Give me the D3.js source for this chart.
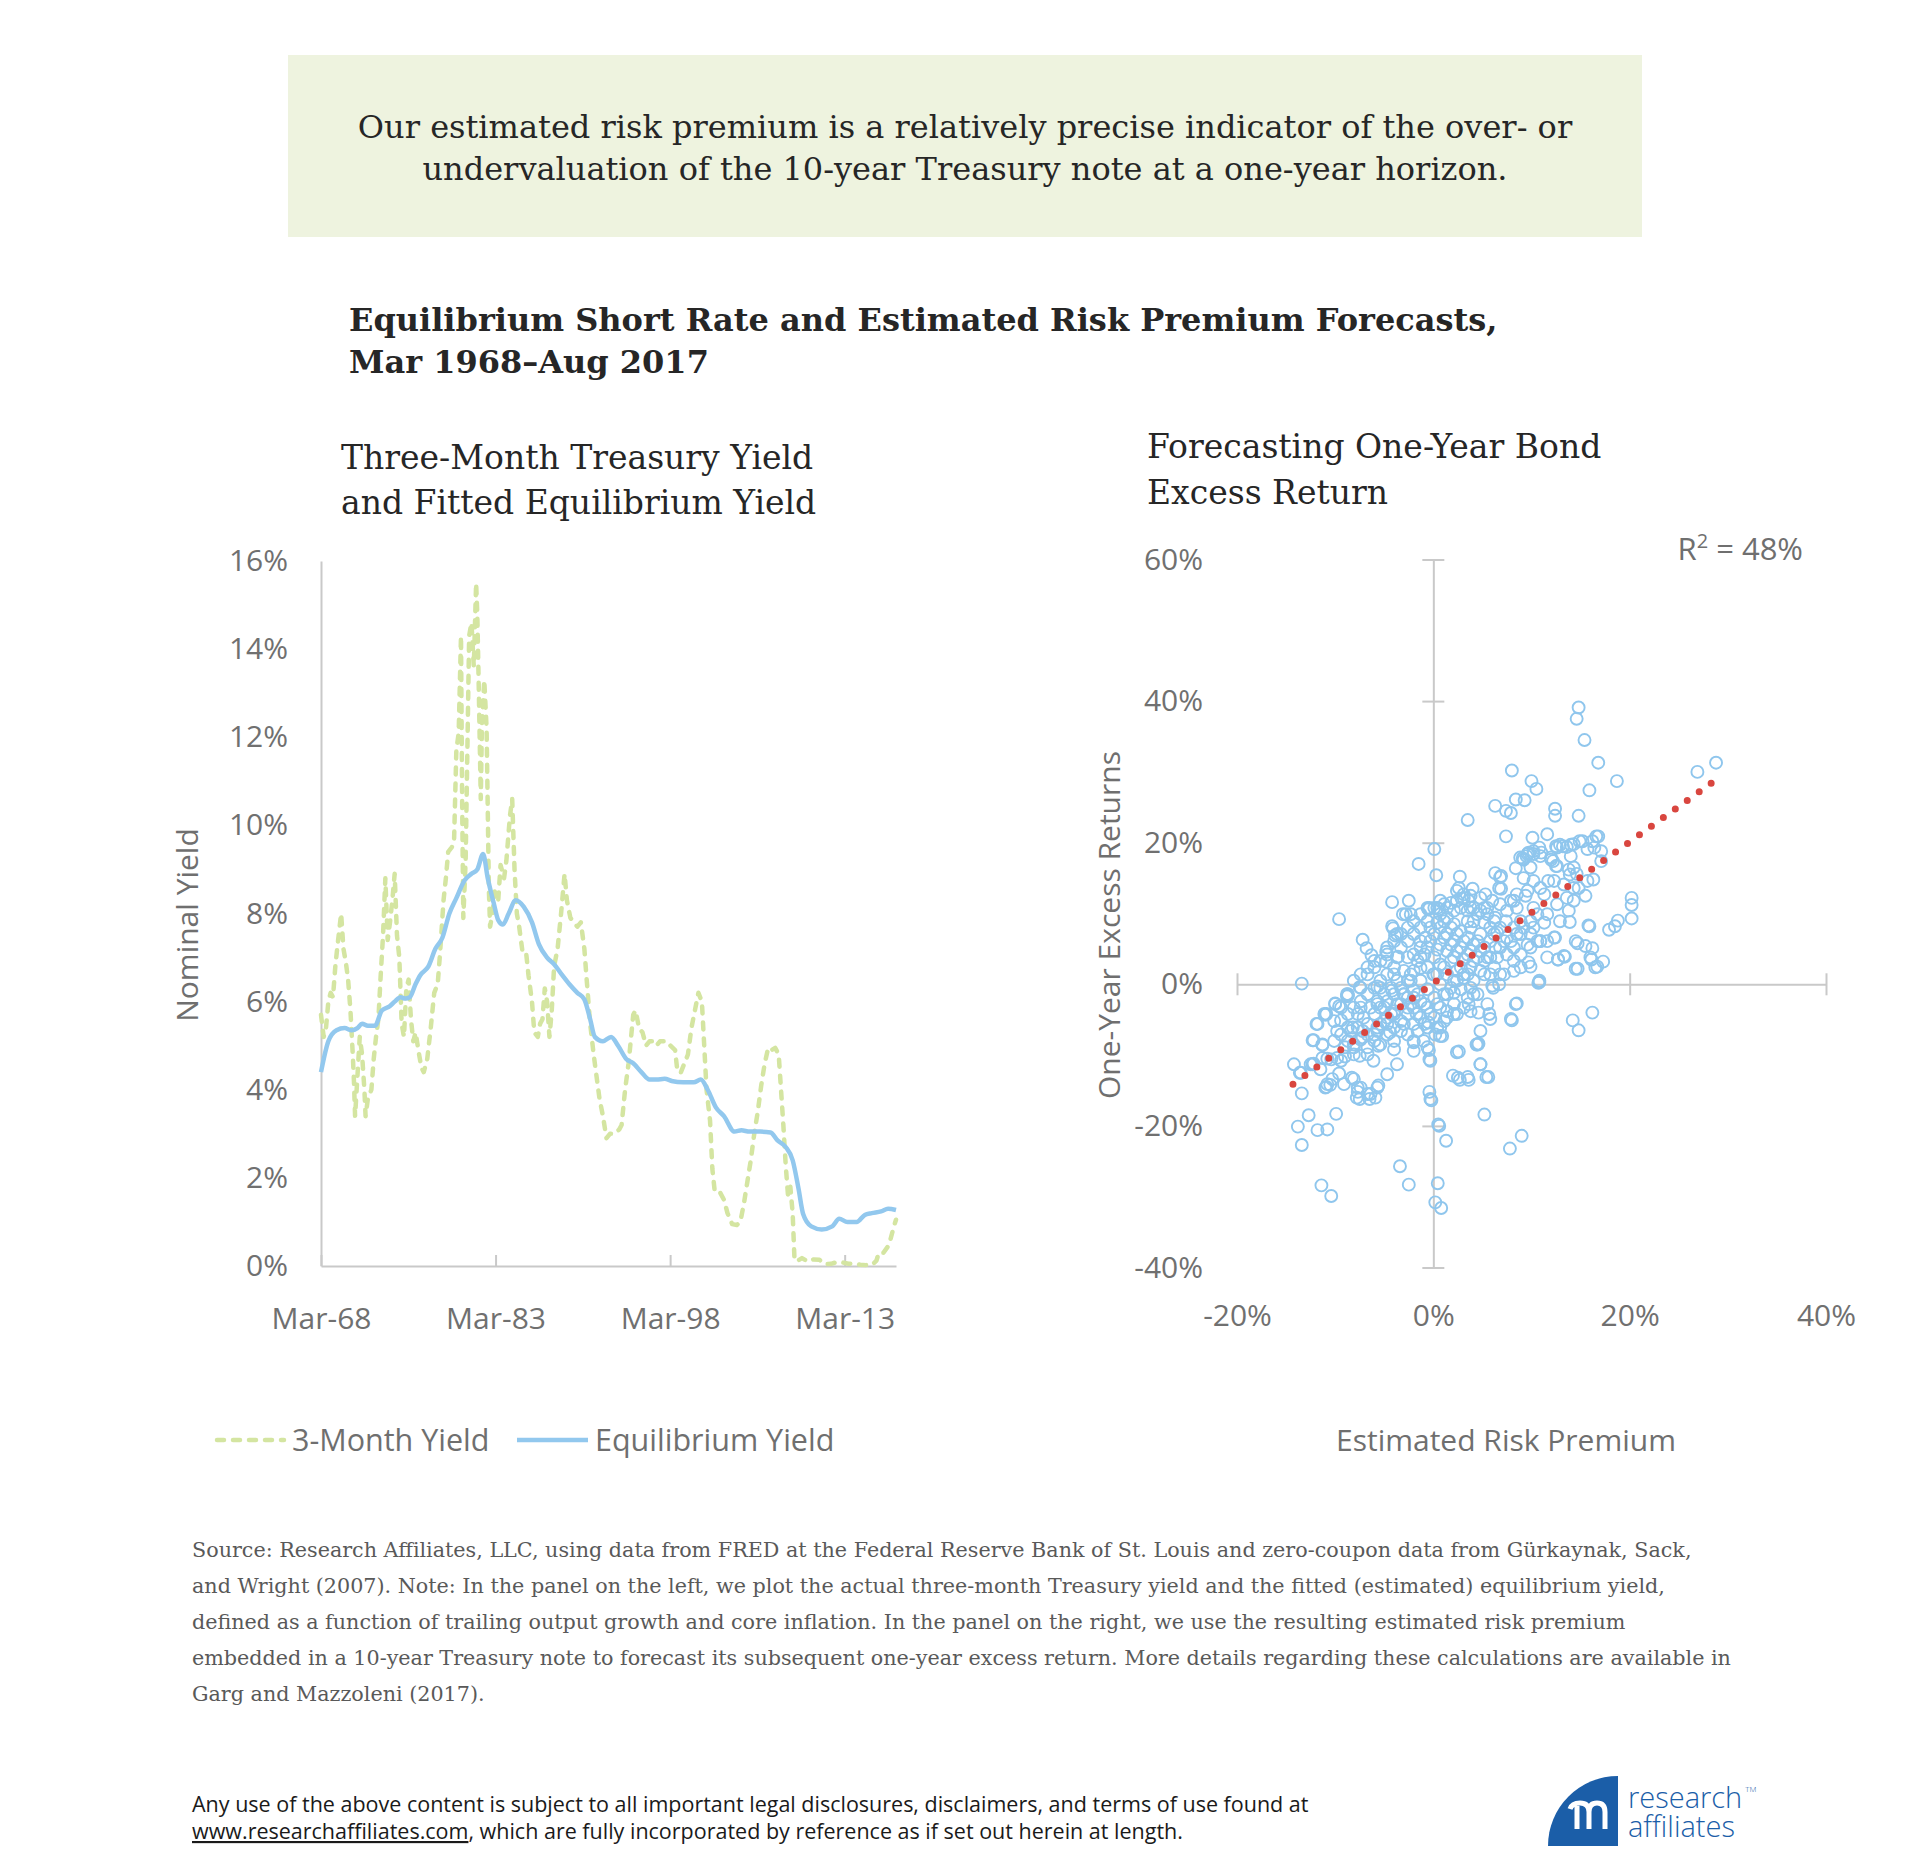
<!DOCTYPE html>
<html>
<head>
<meta charset="utf-8">
<script src="https://cdn.jsdelivr.net/npm/d3@7"></script>
<style>
  body { margin: 0; background: #fff; }
  svg text { font-family: "Open Sans", "Noto Sans", sans-serif; }
  .serif { font-family: "DejaVu Serif", serif !important; }
  .axis .domain, .axis line { stroke: #c9c9c9; stroke-width: 2; }
  .axis text { font-family: "Open Sans", sans-serif; font-size: 30px; fill: #707070; }
</style>
</head>
<body>
<svg id="chart" width="1920" height="1875"></svg>
<script>
/* -------------------------------------------------------------------------- */
// left panel: three-month yield (dashed) and fitted equilibrium yield
const yearTicks  = [1968.17, 1983.17, 1998.17, 2013.17];
const yearLabels = ['Mar-68', 'Mar-83', 'Mar-98', 'Mar-13'];
const yieldTicks = [0, 2, 4, 6, 8, 10, 12, 14, 16];

const t3mYears = [
  1968.17, 1968.4, 1968.6, 1968.8, 1969.0, 1969.2, 1969.4, 1969.6, 1969.9, 1970.1,
  1970.3, 1970.5, 1970.7, 1970.9, 1971.0, 1971.1, 1971.3, 1971.5, 1971.7, 1971.9,
  1972.0, 1972.2, 1972.5, 1972.7, 1972.9, 1973.1, 1973.3, 1973.5, 1973.7, 1973.9,
  1974.1, 1974.3, 1974.5, 1974.7, 1974.9, 1975.1, 1975.3, 1975.5, 1975.7, 1975.9,
  1976.1, 1976.3, 1976.6, 1976.8, 1977.0, 1977.3, 1977.6, 1977.9, 1978.2, 1978.4,
  1978.7, 1978.9, 1979.1, 1979.4, 1979.6, 1979.8, 1980.0, 1980.2, 1980.3, 1980.4,
  1980.6, 1980.8, 1980.9, 1981.1, 1981.3, 1981.5, 1981.6, 1981.7, 1981.9, 1982.0,
  1982.2, 1982.4, 1982.6, 1982.7, 1982.9, 1983.1, 1983.4, 1983.6, 1983.9, 1984.1,
  1984.4, 1984.6, 1984.8, 1985.0, 1985.2, 1985.5, 1985.8, 1986.0, 1986.3, 1986.5,
  1986.8, 1987.0, 1987.2, 1987.4, 1987.6, 1987.8, 1988.0, 1988.2, 1988.5, 1988.8,
  1989.1, 1989.3, 1989.6, 1989.9, 1990.2, 1990.5, 1990.8, 1991.0, 1991.3, 1991.6,
  1991.9, 1992.1, 1992.4, 1992.7, 1993.0, 1993.4, 1993.8, 1994.0, 1994.3, 1994.6,
  1995.0, 1995.2, 1995.5, 1995.8, 1996.1, 1996.4, 1996.7, 1997.0, 1997.3, 1997.6,
  1997.9, 1998.2, 1998.6, 1998.8, 1999.1, 1999.4, 1999.7, 2000.0, 2000.3, 2000.6,
  2000.9, 2001.1, 2001.3, 2001.6, 2001.8, 2002.0, 2002.4, 2002.8, 2003.1, 2003.5,
  2003.9, 2004.2, 2004.5, 2004.8, 2005.1, 2005.4, 2005.7, 2006.0, 2006.3, 2006.6,
  2006.9, 2007.2, 2007.5, 2007.7, 2007.9, 2008.1, 2008.3, 2008.5, 2008.7, 2008.85,
  2009.0, 2009.5, 2010.0, 2010.5, 2011.0, 2011.5, 2012.0, 2012.5, 2013.0, 2013.5,
  2014.0, 2014.5, 2015.0, 2015.5, 2015.9, 2016.1, 2016.5, 2016.9, 2017.1, 2017.4,
  2017.58
];
const t3mYield = [
  5.7, 5.2, 5.4, 6.0, 6.2, 6.1, 6.8, 7.3, 8.0, 7.2,
  6.9, 6.5, 5.8, 4.8, 4.2, 3.4, 4.3, 5.2, 4.8, 4.0,
  3.4, 3.8, 4.0, 4.7, 5.2, 5.6, 6.6, 7.5, 8.8, 7.4,
  7.8, 8.3, 8.9, 7.5, 7.0, 5.5, 5.2, 6.3, 6.5, 5.6,
  5.1, 5.3, 4.8, 4.5, 4.4, 4.7, 5.4, 6.2, 6.4, 7.1,
  8.3, 8.8, 9.4, 9.5, 9.6, 11.7, 12.1, 14.3, 10.5, 7.9,
  9.2, 12.6, 14.3, 14.6, 13.6, 15.5, 14.8, 13.5, 10.6, 12.3,
  13.3, 12.2, 8.5, 7.7, 8.0, 8.5, 8.3, 9.1, 8.8, 9.2,
  10.2, 10.6, 9.0, 8.0, 7.7, 7.1, 7.1, 6.6, 6.0, 5.3,
  5.2, 5.5, 5.6, 6.3, 6.0, 5.2, 5.8, 6.8, 7.2, 8.0,
  8.9, 8.3, 7.9, 7.8, 7.7, 7.8, 7.2, 6.5, 5.5, 4.8,
  4.2, 3.8, 3.4, 2.9, 3.0, 3.0, 3.1, 3.2, 4.0, 4.6,
  5.7, 5.8, 5.4, 5.3, 5.0, 5.1, 5.1, 5.0, 5.1, 5.1,
  5.1, 5.0, 4.9, 4.4, 4.4, 4.6, 4.8, 5.4, 5.8, 6.2,
  6.0, 5.0, 4.0, 3.3, 2.2, 1.7, 1.7, 1.5, 1.2, 0.95,
  0.93, 1.0, 1.4, 1.9, 2.4, 3.0, 3.5, 4.1, 4.6, 4.95,
  4.9, 4.95, 4.8, 4.0, 3.2, 2.3, 1.6, 1.8, 1.2, 0.2,
  0.1, 0.18, 0.1, 0.15, 0.14, 0.04, 0.05, 0.09, 0.08, 0.05,
  0.06, 0.03, 0.02, 0.02, 0.12, 0.3, 0.3, 0.45, 0.6, 0.9,
  1.05
];

const eqYears = [
  1968.17, 1968.8, 1969.5, 1970.2, 1970.8, 1971.3, 1971.7, 1972.2, 1972.8, 1973.4,
  1974.1, 1974.5, 1975.0, 1975.4, 1975.8, 1976.3, 1976.7, 1977.4, 1978.0, 1978.6,
  1979.2, 1979.8, 1980.5, 1981.1, 1981.6, 1982.1, 1982.5, 1983.0, 1983.4, 1983.8,
  1984.3, 1984.9, 1985.6, 1986.3, 1986.9, 1987.6, 1988.2, 1988.9, 1989.5, 1990.2,
  1990.8, 1991.3, 1991.7, 1992.4, 1993.1, 1993.7, 1994.4, 1995.0, 1995.7, 1996.4,
  1997.0, 1997.7, 1998.3, 1999.3, 2000.2, 2000.8, 2001.4, 2002.1, 2002.8, 2003.7,
  2004.3, 2005.0, 2005.9, 2006.8, 2007.4, 2008.1, 2008.7, 2009.2, 2009.6, 2010.3,
  2011.2, 2012.1, 2012.7, 2013.4, 2014.2, 2014.9, 2015.5, 2016.3, 2016.9, 2017.58
];
const eqYield = [
  4.4, 5.1, 5.35, 5.4, 5.35, 5.4, 5.5, 5.45, 5.45, 5.8,
  5.9, 6.0, 6.1, 6.07, 6.1, 6.4, 6.6, 6.8, 7.2, 7.45,
  8.0, 8.35, 8.75, 8.9, 9.0, 9.35, 8.8, 8.25, 7.85, 7.75,
  8.0, 8.3, 8.15, 7.8, 7.3, 7.0, 6.85, 6.6, 6.4, 6.2,
  6.05, 5.6, 5.2, 5.1, 5.2, 5.0, 4.7, 4.6, 4.4, 4.23,
  4.23, 4.25, 4.2, 4.17, 4.17, 4.23, 4.0, 3.6, 3.4, 3.05,
  3.08, 3.05, 3.05, 3.03, 2.85, 2.7, 2.4, 1.76, 1.18, 0.9,
  0.83, 0.9, 1.07, 1.0, 1.0, 1.16, 1.2, 1.24, 1.3, 1.27
];

/* -------------------------------------------------------------------------- */
// right panel: estimated risk premium vs one-year excess return, [premium, return] in %
const premiumTicks = [-20, 0, 20, 40];
const returnTicks  = [-40, -20, 0, 20, 40, 60];
const trendPremium = [-14.3, 28.3];
const trendReturn  = [-14.1, 28.4];

const scatterPoints = [
  [14.8,39.1],[14.6,37.5],[15.4,34.5],[16.8,31.3],[28.8,31.3],[26.9,30.0],[8.0,30.2],[18.7,28.7],[10.0,28.7],[10.5,27.6],
  [15.9,27.4],[8.4,26.1],[9.3,26.0],[6.3,25.2],[7.4,24.5],[7.9,24.2],[12.4,24.8],[12.4,23.8],[14.8,23.8],[3.5,23.2],
  [7.4,20.9],[10.1,20.7],[11.6,21.2],[16.8,20.9],[0.1,19.1],[-1.5,17.0],[0.3,15.4],[2.7,15.2],[-4.2,11.6],[-2.5,11.8],
  [-9.6,9.2],[20.2,12.2],[20.2,11.2],[20.2,9.3],[18.8,9.0],[18.5,8.2],[17.9,7.7],[15.9,8.2],[13.9,8.8],[10.9,6.1],
  [12.4,6.6],[14.7,5.8],[16.2,5.1],[16.1,3.5],[17.3,3.2],[16.7,2.5],[14.7,2.2],[12.7,3.5],[13.4,3.9],[10.8,0.3],
  [9.9,2.5],[-13.4,0.1],[14.2,-5.1],[14.8,-6.5],[16.2,-4.0],[8.5,-2.7],[8.0,-5.1],[5.2,-18.4],[9.0,-21.4],[7.8,-23.2],
  [5.6,-13.1],[4.8,-11.3],[3.6,-13.5],[2.7,-13.5],[2.0,-12.9],[2.6,-9.5],[4.6,-8.4],[0.6,-20.0],[1.3,-22.1],[-0.4,-15.2],
  [-0.2,-16.4],[0.45,-28.1],[0.2,-30.8],[0.8,-31.6],[-3.4,-25.7],[-2.5,-28.3],[-0.3,-10.8],[-0.45,-9.3],
  [-14.2,-11.3],[-13.5,-12.5],[-13.4,-15.4],[-13.8,-20.1],[-13.4,-22.7],[-12.7,-18.5],[-11.8,-20.6],[-10.8,-20.5],[-9.9,-18.3],[-11.4,-28.4],
  [-10.4,-29.9],[-10.9,-14.5],[-10.5,-14.2],[-12.3,-11.3],[-10.8,-10.5],[-9.6,-12.6],[-12.2,-7.9],[-11.3,-8.6],[-11.0,-4.3],[-11.8,-5.6],
  [-10.0,-2.7],[-9.6,-3.1],[-8.8,-1.7],[-9.4,-5.1],[-7.5,-0.4],[-7.2,6.3],[-6.8,5.1],[-6.3,4.1],[-4.8,4.6],[-4.8,3.2],
  [-4.1,7.9],[-3.9,6.9],[-3.6,3.9],[-2.8,9.9],[-8.1,-8.9],[-7.5,-10.1],[-7.7,-15.2],[-7.5,-16.2],[-6.5,-16.2],[-5.9,-16.0],
  [-5.6,-14.3],[-8.1,-13.4],[-9.0,-10.2],
  [6.9,15.3],[8.4,16.4],[9.2,17.6],[9.6,18.4],[10.2,18.4],[10.9,18.1],[12.0,17.6],[12.6,19.3],[12.9,19.7],[13.6,19.4],
  [14.3,19.8],[15.2,20.2],[16.2,20.2],[16.6,20.9],[12.2,17.4],[12.6,16.7],[13.8,16.2],[14.3,16.5],[14.6,15.6],[15.7,14.6],
  [14.8,13.6],[15.5,12.5],[14.3,11.8],[13.8,10.4],[15.8,8.3],[14.5,6.1],[15.5,5.4],[16.0,3.8],[14.5,2.2],[16.5,2.4],
  [10.8,0.5],[11.6,3.8],[12.7,3.5],[13.3,4.0],[12.3,6.6],[10.9,6.1],[9.9,8.9],[11.3,8.7],[10.2,10.8],[9.4,12.5],
  [8.5,12.7],[8.2,11.8],[6.8,15.1],[6.7,13.6],[5.3,12.7],[3.8,12.5],[2.6,13.6],[3.1,12.7],[3.6,11.8],[4.1,10.8],
  [4.8,10.4],[5.5,9.9],[6.3,9.4],[7.4,8.9],[8.2,8.0],[8.9,7.1],[9.6,5.6],[7.2,6.1],[6.3,5.2],[5.8,3.8],
  [5.2,1.4],[4.5,-1.4],[5.5,-2.8],[8.4,-2.8],[7.9,-4.9],[5.7,-4.2],[4.8,-6.6],[4.5,-8.5],[4.8,-11.3],[5.4,-13.1],
  [3.5,-13.1],[2.5,-13.2],[2.4,-9.6],[0.7,-7.3],[0.2,-7.1],[-0.4,-10.6],[-0.3,-16.2],[0.5,-19.8],[8.9,2.4],[8.2,1.9],
  [7.2,1.4],[6.7,0.0],[6.0,-0.2],[-4.2,8.2],[-3.7,7.1],[-3.1,9.9],[-2.3,9.9],[-2.0,8.9],[-1.3,6.1],[-0.8,6.6],
  [-0.4,10.8],[0.4,10.8],[-7.4,-0.5],[-8.7,-1.6],[-10.9,-4.2],[-8.2,-6.1],[-7.2,-6.6],[-5.7,-6.1],[-5.0,-3.3],[-4.0,-1.4],
  [-5.4,-0.5],[-3.0,-1.4],[-2.0,-1.9],[-2.6,-3.3],[-4.0,-4.2],[-4.7,-5.6],[-6.0,-8.0],[-6.7,-8.9],[-8.1,-9.9],[-9.4,-10.8],
  [-10.4,-10.6],[-11.5,-12.0],[-12.2,-11.2],[-13.6,-12.5],[-8.3,-13.2],[-7.7,-14.6],[-6.7,-15.5],[-5.7,-14.6],[-4.7,-12.7],[-3.7,-11.3],
  [-2.0,-9.4],[-1.0,-8.0],
  [8.85,17.9],[9.5,18.1],[10.2,18.8],[11.0,18.6],[12.0,17.9],[12.5,19.5],[13.2,19.5],[14.0,19.7],[14.9,20.2],[15.7,19.1],
  [16.4,19.3],[17.1,18.8],[17.1,17.4],[14.0,18.1],[12.5,16.7],[9.9,16.5],[9.2,15.0],[11.7,14.6],[13.9,15.5],[16.3,14.8],
  [4.4,-8.5],[10.7,0.2],[5.8,-4.9],[4.6,-4.0],[3.6,-2.8],[2.4,-4.2],[0.9,-7.3],[-2.0,-8.2],[-4.0,-9.2],[-6.1,-10.8],
  [-6.4,-15.5],[-7.8,-16.0],[-7.4,-14.6],[-9.1,-14.1],[-10.8,-14.1],[-10.3,-13.4],[-11.0,-14.6],[-12.5,-11.3],[-11.3,-10.4],[-9.8,-10.4],
  [-9.0,-8.9],[-8.4,-6.6],[-7.4,-7.8],[-5.6,-8.7],[-4.4,-6.8],[-3.0,-5.6],[-1.7,-4.2],[-0.5,-5.4],[0.7,-6.1],[1.4,-3.8],
  [2.1,-1.2],[4.1,-1.4],[6.1,-0.5],[6.8,1.4],[3.1,0.9],[0.0,1.4],[-2.3,0.5],[-4.2,-0.9],[-5.7,-2.4],[-7.4,-3.3],
  [-8.7,-6.1],[-9.8,-6.6],[-11.1,-4.2],[-11.9,-5.6],[-12.3,-7.9],[-11.3,-8.5],[-10.0,-2.8],[-8.8,-1.4],[-5.7,-0.3],[-4.0,1.4],
  [-1.3,2.3],
  [0.1,10.8],[1.1,11.3],[1.8,11.5],[2.4,13.2],[3.1,12.2],[3.8,10.8],[4.5,9.9],[5.2,8.7],[5.8,8.0],[6.5,7.3],
  [7.5,6.6],[8.2,5.2],[8.9,4.2],[9.7,3.1],[1.4,9.4],[2.1,8.5],[2.8,7.5],[3.5,6.6],[4.1,5.6],[4.8,4.7],
  [5.5,3.8],[6.2,2.4],[0.7,8.0],[1.4,7.1],[2.1,6.1],[2.8,5.2],[3.5,4.2],[4.1,3.3],[4.8,1.9],[0.1,7.1],
  [0.7,5.6],[1.4,4.7],[2.1,3.8],[2.8,2.4],[3.5,1.4],[4.1,0.5],[-0.6,5.2],[0.1,3.8],[0.7,2.8],[1.4,1.4],
  [2.1,0.5],[2.8,-0.7],[3.5,-1.9],[-1.3,3.8],[-0.6,2.4],[0.1,1.4],[0.7,0.0],[1.4,-1.4],[2.1,-2.8],[-2.0,1.9],
  [-1.3,0.5],[-0.6,-0.7],[0.1,-1.9],[0.7,-3.3],[1.4,-4.7],[-2.6,0.5],[-2.0,-0.9],[-1.3,-2.4],[-0.6,-3.3],[0.1,-4.7],
  [-3.3,-0.5],[-2.6,-1.9],[-2.0,-3.3],[-1.3,-4.7],[-0.6,-6.1],[-3.3,-2.8],[-2.6,-4.2],[-2.0,-5.6],[-4.7,-2.4],[-4.0,-3.8],
  [-3.3,-5.2],[-5.4,-3.3],[-4.7,-4.7],[-4.0,-6.1],[-6.0,-4.2],[-5.4,-5.6],[-6.7,-5.6],[-6.0,-7.1],[-7.2,-7.5],[-8.1,-8.5],
  [-6.7,-9.9],[-5.4,-8.5],[-4.0,-8.0],[-2.6,-7.1],[-1.6,-6.6],[-0.9,-5.6],[-0.3,-4.2],[0.4,-2.8],[1.1,-1.4],[1.8,-0.5],
  [2.4,0.5],[3.1,1.4],[3.8,2.4],[4.5,3.8],[5.2,5.2],[5.8,6.1],[6.8,5.2],[7.5,4.2],[8.2,3.3],[6.2,7.1],
  [3.5,8.9],[4.8,7.1],[2.1,10.4],[0.7,9.9],[-0.6,8.9],[-1.3,8.0],[-2.0,7.1],[-2.6,6.1],[-3.3,5.2],[-3.7,3.8],
  [-4.0,2.4],[-4.7,1.4],[-5.4,0.5],[-6.0,-0.5],[-6.7,-1.4],[-7.4,-2.4],[-8.1,-3.3],[-8.7,-4.2],[-9.4,-7.1],[-10.1,-8.0],
  [-8.7,-8.0],[-7.7,-6.1],[-4.7,4.2],[-5.4,3.3],[-6.0,2.4],[-6.7,1.4],[-2.0,4.2],[-1.3,5.2],[-2.6,3.8],[3.8,8.0],
  [2.4,11.8],[7.9,11.8],[10.2,8.0],[11.6,6.1],[9.9,5.2],[8.9,8.9],[11.3,12.7],[13.3,14.1],[12.3,14.6],[10.9,13.6],
  [10.2,14.6],[9.6,13.2],[8.5,10.8],[7.5,10.4],[6.8,11.3],[6.0,11.8],[5.2,10.8],[14.3,13.6],[13.6,12.2],[12.6,11.3],
  [11.6,9.9],[10.6,9.9],[12.9,8.9],[6.3,15.7],[6.9,13.5],[9.1,17.8],[9.7,18.6],[10.8,19.3],[4.0,13.5],[2.9,12.1],
  [0.6,10.6],[-0.5,10.6],
  [-0.3,8.0],[0.4,8.7],[1.1,6.6],[1.8,5.6],[2.4,4.7],[3.1,3.5],[3.8,4.7],[4.5,6.1],[3.1,6.1],[2.4,7.1],
  [1.8,8.0],[1.1,8.9],[0.4,4.9],[-0.3,6.1],[-0.9,4.2],[-1.6,3.3],[-2.3,1.4],[-3.0,1.9],[-3.7,0.5],[-4.3,-0.5],
  [-5.0,-1.4],[-5.7,-2.8],[-6.4,-3.3],[-7.1,-4.7],[-7.7,-4.2],[-1.6,-1.4],[-0.9,-2.8],[-2.3,-2.8],[-3.0,-1.4],[-3.7,-2.8],
  [-4.3,-4.2],[-5.0,-5.2],[-5.7,-6.6],[0.4,1.4],[1.1,2.4],[1.8,3.3],[2.4,1.9],[3.8,-0.5],[5.2,3.3],[5.8,1.4],
  [6.5,3.8],[7.9,6.1],[8.5,7.1],[9.2,8.0],[9.9,7.1],[10.6,6.1],[6.8,8.0],[6.2,8.9],[5.5,10.8],[4.8,12.2],
  [4.1,8.9],[3.5,10.4],[2.8,10.8],[1.4,10.8],[0.7,11.8],[-0.6,10.8],[-1.3,9.9],[-2.6,8.0],[-3.3,7.1],[-4.0,6.1],
  [-4.7,5.2],[-6.0,3.3],[-6.7,2.4],[-7.4,1.4],[-8.1,0.5],[-8.7,-1.4],[-9.4,-3.3],[-10.1,-5.2],[-6.7,-7.1],[-4.7,-7.1],
  [-3.3,-6.6],[-2.0,-8.0],[-0.6,-8.9],[0.4,-6.1],[1.1,-5.2],[2.1,-4.2],[3.1,-3.3],[3.8,-3.8]
];

/* -------------------------------------------------------------------------- */
const sourceLines = [
  'Source:  Research Affiliates, LLC, using data from FRED at the Federal Reserve Bank of St. Louis and zero-coupon data from G\u00fcrkaynak, Sack,',
  'and Wright (2007). Note: In the panel on the left, we plot the actual three-month Treasury yield and the fitted (estimated) equilibrium yield,',
  'defined as a function of trailing output growth and core inflation. In the panel on the right, we use the resulting estimated risk premium',
  'embedded in a 10-year Treasury note to forecast its subsequent one-year excess return. More details regarding these calculations are available in',
  'Garg and Mazzoleni (2017).'
];

const colors = { short: '#d4e5a1', eq: '#92c8ee', dot: '#8fc6ed', trend: '#d9463f',
                 box: '#eef3df', dark: '#262626', gray: '#6f6f6f', note: '#595959', brand: '#1b5ea8' };

const svg = d3.select('#chart');

/* -------------------------------------------------------------------------- */
function drawHeader() {

  svg.append('rect').attr('x', 288).attr('y', 55).attr('width', 1354).attr('height', 182)
     .attr('fill', colors.box);

  let boxText = ['Our estimated risk premium is a relatively precise indicator of the over- or',
                 'undervaluation of the 10-year Treasury note at a one-year horizon.'];
  svg.selectAll('.boxline').data(boxText).enter().append('text')
     .attr('class', 'boxline serif')
     .attr('x', 965).attr('y', (d, i) => 138 + i * 42)
     .attr('text-anchor', 'middle')
     .style('font-size', '32px').attr('fill', colors.dark)
     .text(d => d);

  let title = ['Equilibrium Short Rate and Estimated Risk Premium Forecasts,', 'Mar 1968\u2013Aug 2017'];
  svg.selectAll('.title').data(title).enter().append('text')
     .attr('class', 'title serif')
     .attr('x', 349).attr('y', (d, i) => 331 + i * 42)
     .style('font-size', '32px').style('font-weight', 'bold').attr('fill', colors.dark)
     .text(d => d);

  let subL = ['Three-Month Treasury Yield', 'and Fitted Equilibrium Yield'];
  svg.selectAll('.subl').data(subL).enter().append('text')
     .attr('class', 'subl serif')
     .attr('x', 341).attr('y', (d, i) => 469 + i * 45)
     .style('font-size', '33px').attr('fill', colors.dark)
     .text(d => d);

  let subR = ['Forecasting One-Year Bond', 'Excess Return'];
  svg.selectAll('.subr').data(subR).enter().append('text')
     .attr('class', 'subr serif')
     .attr('x', 1147).attr('y', (d, i) => 458 + i * 46)
     .style('font-size', '33px').attr('fill', colors.dark)
     .text(d => d);
}

/* -------------------------------------------------------------------------- */
function drawLeft() {

  let x = d3.scaleLinear().domain([1968.17, 2017.58]).range([321, 896]);
  let y = d3.scaleLinear().domain([0, 16]).range([1266, 561]);

  svg.append('g').attr('class', 'axis').attr('transform', 'translate(321,0)')
     .call(d3.axisLeft(y).tickValues(yieldTicks).tickFormat(d => d + '%')
             .tickSize(0).tickPadding(33));

  svg.append('g').attr('class', 'axis').attr('transform', 'translate(0,1266)')
     .call(d3.axisBottom(x).tickValues(yearTicks).tickFormat((d, i) => yearLabels[i])
             .tickSizeInner(-11).tickSizeOuter(0).tickPadding(42));

  let line = d3.line().x(d => x(d[0])).y(d => y(d[1]));

  svg.append('path')
     .datum(d3.zip(t3mYears, t3mYield))
     .attr('d', line)
     .attr('fill', 'none').attr('stroke', colors.short).attr('stroke-width', 4.5)
     .attr('stroke-linecap', 'round').attr('stroke-linejoin', 'round')
     .attr('stroke-dasharray', '7 9');

  svg.append('path')
     .datum(d3.zip(eqYears, eqYield))
     .attr('d', line.curve(d3.curveMonotoneX))
     .attr('fill', 'none').attr('stroke', colors.eq).attr('stroke-width', 4.5)
     .attr('stroke-linejoin', 'round');

  svg.append('text')
     .attr('transform', 'translate(198,925) rotate(-90)')
     .attr('text-anchor', 'middle')
     .style('font-size', '30px').attr('fill', colors.gray)
     .text('Nominal Yield');
}

/* -------------------------------------------------------------------------- */
function drawRight() {

  let x = d3.scaleLinear().domain([-20, 40]).range([1237, 1826]);
  let y = d3.scaleLinear().domain([-40, 60]).range([1267.5, 559.5]);

  // tick labels sit at the panel edges
  svg.append('g').attr('class', 'axis').attr('transform', 'translate(1237,0)')
     .call(d3.axisLeft(y).tickValues(returnTicks).tickFormat(d => d + '%')
             .tickSize(0).tickPadding(34))
     .call(g => g.select('.domain').remove());

  svg.append('g').attr('class', 'axis').attr('transform', 'translate(0,1267.5)')
     .call(d3.axisBottom(x).tickValues(premiumTicks).tickFormat(d => d + '%')
             .tickSize(0).tickPadding(37))
     .call(g => g.select('.domain').remove());

  // crossing axis lines through zero
  svg.append('g').attr('class', 'axis').attr('transform', 'translate(0,' + y(0) + ')')
     .call(d3.axisBottom(x).tickValues([-20, 20, 40]).tickSizeInner(11).tickSizeOuter(0).tickFormat(''))
     .call(g => g.selectAll('.tick line').attr('y1', -11));

  svg.append('g').attr('class', 'axis').attr('transform', 'translate(' + x(0) + ',0)')
     .call(d3.axisLeft(y).tickValues([-40, -20, 20, 40, 60]).tickSizeInner(11).tickSizeOuter(0).tickFormat(''))
     .call(g => g.selectAll('.tick line').attr('x2', 11).attr('x1', -11));

  svg.append('g').selectAll('circle').data(scatterPoints).enter().append('circle')
     .attr('cx', d => x(d[0])).attr('cy', d => y(d[1])).attr('r', 6)
     .attr('fill', 'none').attr('stroke', colors.dot).attr('stroke-width', 1.9);

  // dotted fit line, 35 gaps between the end dots
  let x1 = x(trendPremium[0]), y1 = y(trendReturn[0]),
      x2 = x(trendPremium[1]), y2 = y(trendReturn[1]);
  let step = Math.hypot(x2 - x1, y2 - y1) / 35;
  svg.append('line')
     .attr('x1', x1).attr('y1', y1).attr('x2', x2).attr('y2', y2)
     .attr('stroke', colors.trend).attr('stroke-width', 7)
     .attr('stroke-linecap', 'round').attr('stroke-dasharray', '0 ' + step);

  let r2 = svg.append('text').attr('x', 1803).attr('y', 560).attr('text-anchor', 'end')
     .style('font-size', '31px').attr('fill', colors.gray);
  r2.append('tspan').text('R');
  r2.append('tspan').attr('dy', -12).style('font-size', '20px').text('2');
  r2.append('tspan').attr('dy', 12).text(' = 48%');

  svg.append('text')
     .attr('transform', 'translate(1120,925) rotate(-90)')
     .attr('text-anchor', 'middle')
     .style('font-size', '30px').attr('fill', colors.gray)
     .text('One-Year Excess Returns');
}

/* -------------------------------------------------------------------------- */
function drawLegend() {

  let ly = 1440;
  svg.append('line').attr('x1', 217).attr('x2', 284).attr('y1', ly).attr('y2', ly)
     .attr('stroke', colors.short).attr('stroke-width', 4.5)
     .attr('stroke-linecap', 'round').attr('stroke-dasharray', '7 9');
  svg.append('text').attr('x', 292).attr('y', ly + 11)
     .style('font-size', '30.5px').attr('fill', colors.gray).text('3-Month Yield');

  svg.append('line').attr('x1', 517).attr('x2', 588).attr('y1', ly).attr('y2', ly)
     .attr('stroke', colors.eq).attr('stroke-width', 4.5);
  svg.append('text').attr('x', 595).attr('y', ly + 11)
     .style('font-size', '30.5px').attr('fill', colors.gray).text('Equilibrium Yield');

  svg.append('text').attr('x', 1506).attr('y', ly + 11).attr('text-anchor', 'middle')
     .style('font-size', '30px').attr('fill', colors.gray).text('Estimated Risk Premium');
}

/* -------------------------------------------------------------------------- */
function drawFooter() {

  svg.selectAll('.source').data(sourceLines).enter().append('text')
     .attr('class', 'source serif')
     .attr('x', 192).attr('y', (d, i) => 1557 + i * 36)
     .style('font-size', '20.7px').attr('fill', colors.note)
     .text(d => d);

  svg.append('text').attr('x', 192).attr('y', 1812)
     .style('font-size', '21.5px').attr('fill', '#1a1a1a')
     .text('Any use of the above content is subject to all important legal disclosures, disclaimers, and terms of use found at');
  let l2 = svg.append('text').attr('x', 192).attr('y', 1839)
     .style('font-size', '21.5px').attr('fill', '#1a1a1a');
  l2.append('tspan').style('text-decoration', 'underline').text('www.researchaffiliates.com');
  l2.append('tspan').text(', which are fully incorporated by reference as if set out herein at length.');

  // logo
  let logo = svg.append('g');
  logo.append('path').attr('d', 'M1618,1846 L1548,1846 A70,70 0 0 1 1618,1776 Z').attr('fill', colors.brand);
  logo.append('path')
     .attr('d', 'M1570,1809 Q1572,1803 1580,1803 Q1589,1803 1589,1812 L1589,1829 M1589,1812 Q1589,1803 1597,1803 Q1605,1803 1605,1812 L1605,1829 M1577,1806 L1577,1829')
     .attr('fill', 'none').attr('stroke', '#fff').attr('stroke-width', 5);
  let word = logo.append('text')
     .style('font-size', '29px').style('font-weight', 300).attr('fill', colors.brand);
  word.append('tspan').attr('x', 1628).attr('y', 1808).text('research');
  word.append('tspan').attr('dx', 3).attr('dy', -16).style('font-size', '8px').text('TM');
  word.append('tspan').attr('x', 1628).attr('y', 1837).text('affiliates');
}

/* -------------------------------------------------------------------------- */
drawHeader();
drawLeft();
drawRight();
drawLegend();
drawFooter();
</script>
</body>
</html>
